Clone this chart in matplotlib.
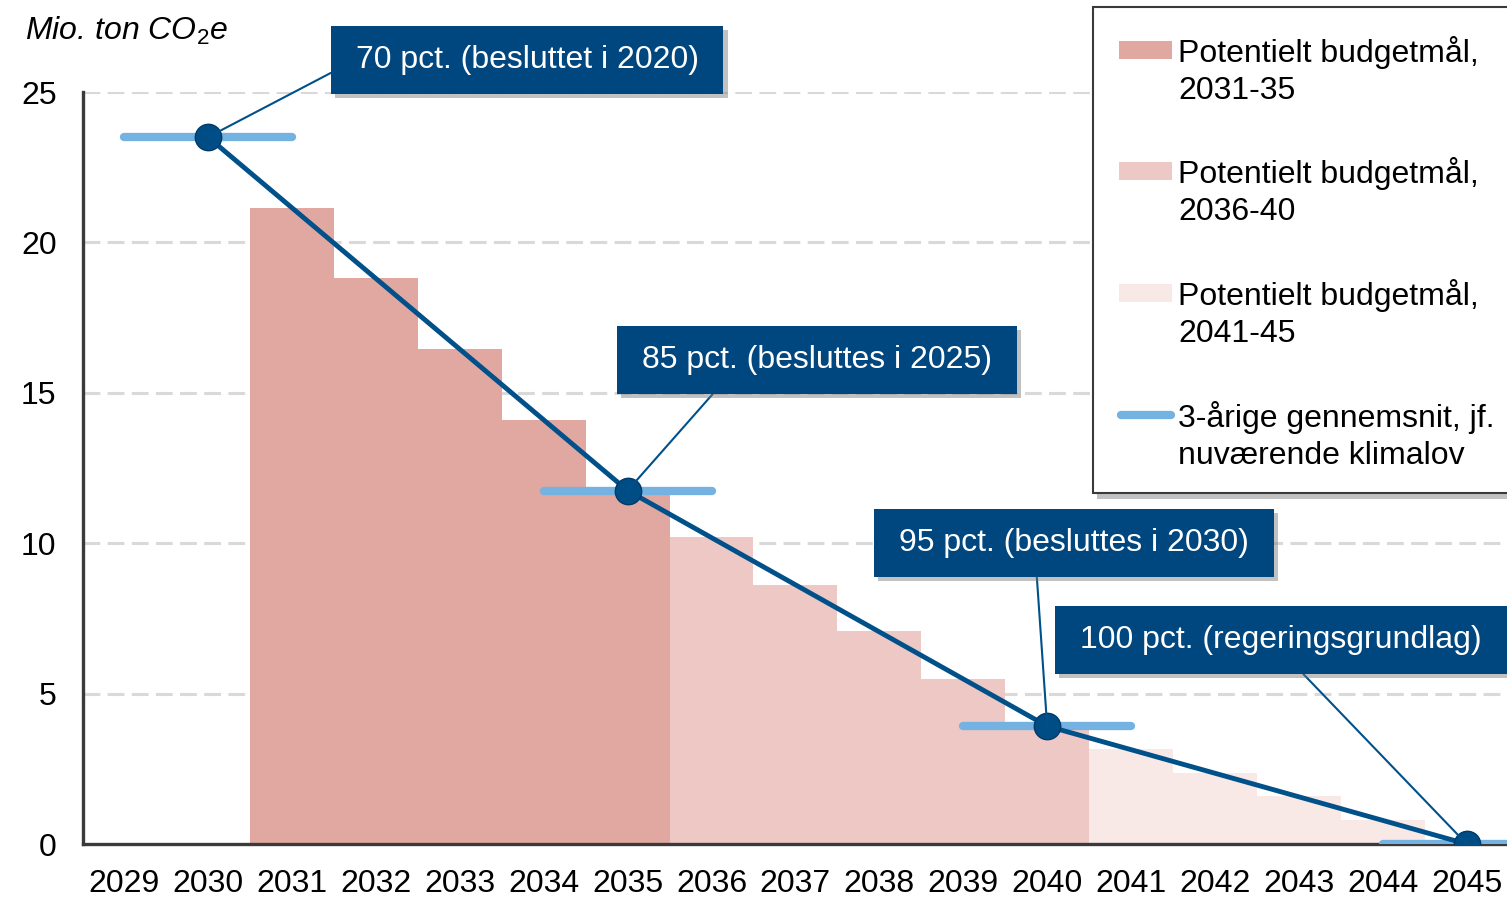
import matplotlib
matplotlib.use("Agg")
import matplotlib.pyplot as plt
import matplotlib.patheffects as pe
from matplotlib.patches import Rectangle
from matplotlib.lines import Line2D
from matplotlib.path import Path

plt.rcParams['font.family'] = ['Liberation Sans', 'DejaVu Sans']
plt.rcParams['mathtext.fontset'] = 'custom'
plt.rcParams['mathtext.rm'] = 'Liberation Sans'
plt.rcParams['mathtext.it'] = 'Liberation Sans:italic'

# data
years = list(range(2029, 2046))
bar_years = list(range(2031, 2046))
bar_values = [21.15, 18.8, 16.45, 14.1, 11.6,
              10.2, 8.62, 7.08, 5.5, 3.9,
              3.15, 2.37, 1.58, 0.8, 0.0]
period_of_bar = [0] * 5 + [1] * 5 + [2] * 5
period_colors = ['#E1A7A1', '#EDC8C5', '#F8E9E7']
period_labels = ['Potentielt budgetmål,\n2031-35',
                 'Potentielt budgetmål,\n2036-40',
                 'Potentielt budgetmål,\n2041-45']
avg_label = '3-årige gennemsnit, jf.\nnuværende klimalov'

goal_years = [2030, 2035, 2040, 2045]
goal_values = [23.5, 11.75, 3.92, 0.0]
goal_labels = ['70 pct. (besluttet i 2020)',
               '85 pct. (besluttes i 2025)',
               '95 pct. (besluttes i 2030)',
               '100 pct. (regeringsgrundlag)']
yticks = [0, 5, 10, 15, 20, 25]

# styles
DARK = '#00467F'
LINE = '#00508A'
LIGHT = '#74B2E2'
FS = 23
W, H = 1507, 900


def wide_box(x0, y0, width, height, mutation_size, padx=0.78, pady=0.6):
    px, py = padx * mutation_size, pady * mutation_size
    x0, y0 = x0 - px, y0 - py
    x1, y1 = x0 + width + 2 * px, y0 + height + 2 * py
    return Path([(x0, y0), (x1, y0), (x1, y1), (x0, y1), (x0, y0)], closed=True)


fig = plt.figure(figsize=(W / 100, H / 100), dpi=100)
ax = fig.add_axes([83 / W, 56 / H, (W - 83) / W, (844 - 92) / H])

ax.set_xlim(2028.51, 2045.48)
ax.set_ylim(0, 25)

for y in yticks[1:]:
    ax.axhline(y, color='#D9D9D9', lw=2.2, ls=(0, (5.5, 2.4)), zorder=0)

ax.bar(bar_years, bar_values, width=1.0,
       color=[period_colors[p] for p in period_of_bar], linewidth=0, zorder=1)

for yr, v in zip(goal_years, goal_values):
    ax.plot([yr - 1, yr + 1], [v, v], color=LIGHT, lw=6,
            solid_capstyle='round', zorder=3)

ax.plot(goal_years, goal_values, color=LINE, lw=3.5, zorder=4,
        marker='o', markersize=19, markerfacecolor='#004D85',
        markeredgecolor='#003A68', markeredgewidth=1)

# annotations (box centres in figure pixels, relpos of leader on the box)
box_pos = [(527, 840), (817, 540), (1074, 357), (1281, 260)]
rel_pos = [(0.0, 0.5), (0.25, 0.0), (0.39, 0.0), (0.51, 0.0)]
for lab, yr, v, bp, rp in zip(goal_labels, goal_years, goal_values, box_pos, rel_pos):
    t = ax.annotate(lab, xy=(yr, v), xytext=bp, textcoords='figure pixels',
                    ha='center', va='center', color='white', fontsize=FS,
                    bbox=dict(boxstyle=wide_box, fc=DARK, ec='none'),
                    arrowprops=dict(arrowstyle='-', color=LINE, lw=1.5,
                                    relpos=rp, shrinkA=0, shrinkB=0),
                    zorder=6, annotation_clip=False)
    t.get_bbox_patch().set_path_effects([
        pe.SimplePatchShadow(offset=(3, -3), shadow_rgbFace='#777777', alpha=0.45),
        pe.Normal()])

ax.spines['top'].set_visible(False)
ax.spines['right'].set_visible(False)
for s in ['left', 'bottom']:
    ax.spines[s].set_color('#3A3A3A')
    ax.spines[s].set_linewidth(2.4)
    ax.spines[s].set_zorder(2)

ax.set_yticks(yticks)
ax.set_xticks(years)
ax.tick_params(axis='both', length=0, labelsize=FS)
ax.tick_params(axis='y', pad=19)
ax.tick_params(axis='x', pad=18)

fig.text(25 / W, (H - 40) / H, r'Mio. ton CO$_{\mathit{2}}$e', fontsize=FS,
         style='italic', va='baseline', ha='left')

# legend box drawn by hand so the keys sit on the first text line
frame = Rectangle((1093 / W, (H - 493) / H), 430 / W, 486 / H,
                  transform=fig.transFigure, fc='white', ec='#3A3A3A', lw=1.5,
                  zorder=10)
frame.set_path_effects([pe.SimplePatchShadow(offset=(3, -4), shadow_rgbFace='#777777',
                                             alpha=0.45), pe.Normal()])
fig.patches.append(frame)

entry_y = [50, 171, 293, 415]
labels = period_labels + [avg_label]
for i, (lab, ey) in enumerate(zip(labels, entry_y)):
    if i < 3:
        fig.patches.append(Rectangle((1119 / W, (H - ey - 9) / H), 53 / W, 18 / H,
                                     transform=fig.transFigure, fc=period_colors[i],
                                     ec='none', zorder=11))
    else:
        fig.lines.append(Line2D([1121 / W, 1171 / W], [(H - ey) / H] * 2,
                                transform=fig.transFigure, color=LIGHT, lw=6,
                                solid_capstyle='round', zorder=11))
    for k, line in enumerate(lab.split('\n')):
        fig.text(1178 / W, (H - ey - 12 - 37 * k) / H, line, fontsize=FS,
                 va='baseline', ha='left', zorder=12)

fig.savefig('out.png', dpi=100)
